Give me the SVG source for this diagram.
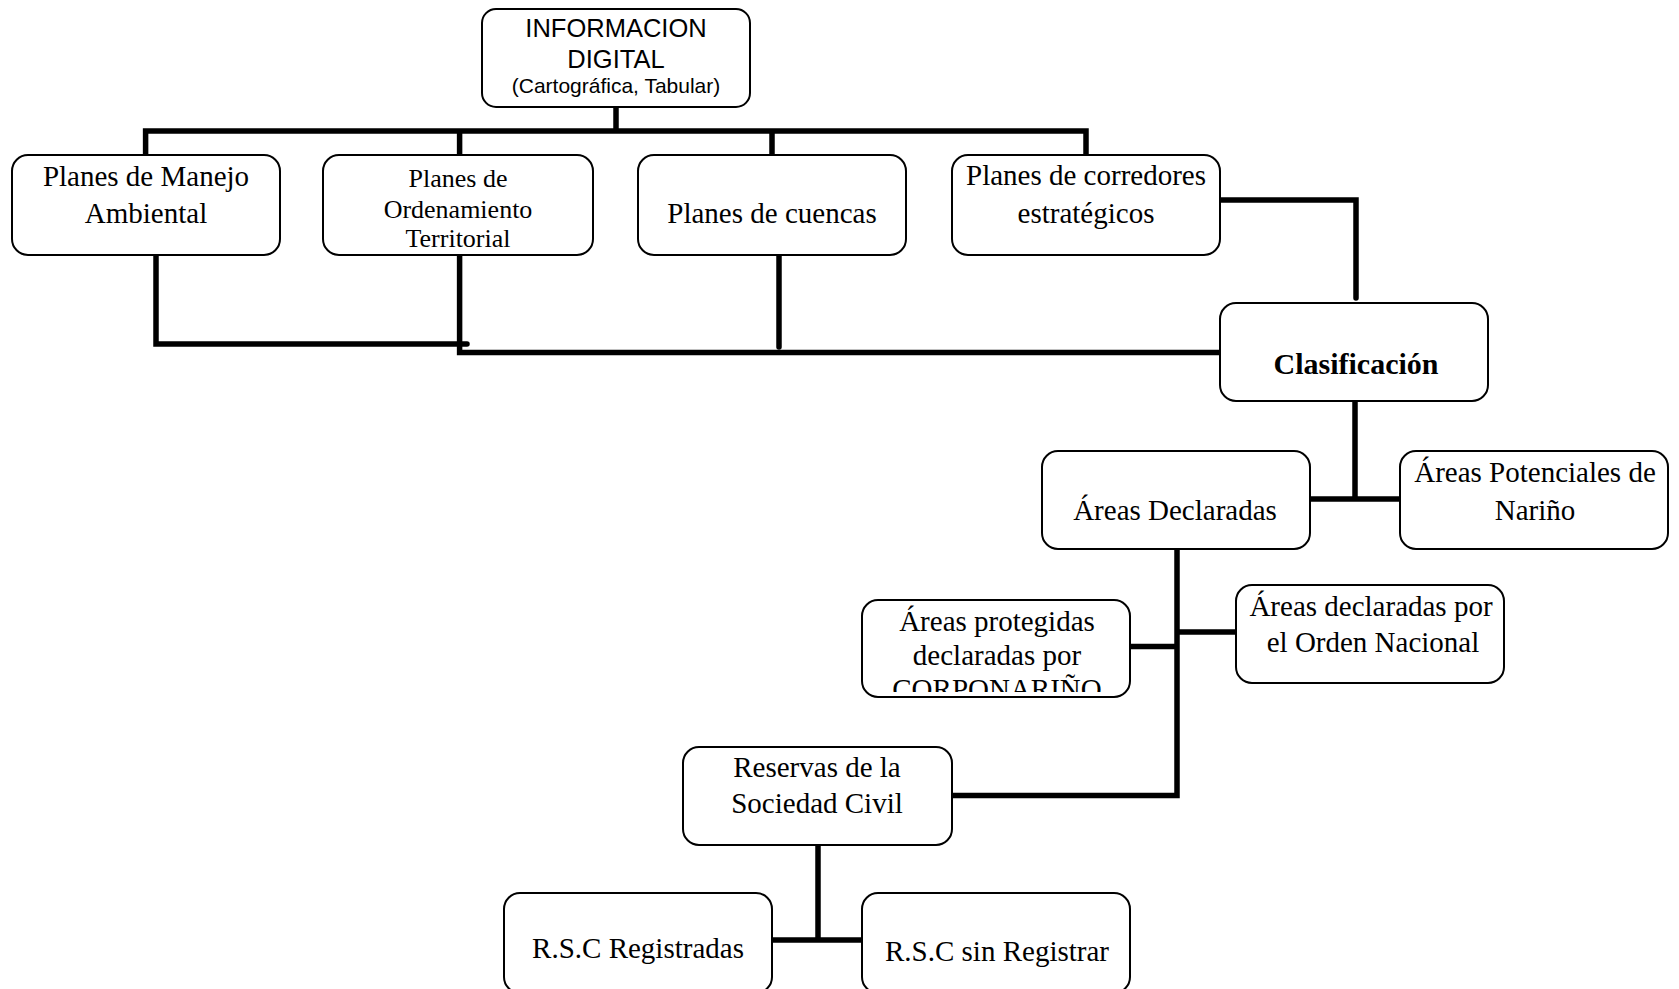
<svg xmlns="http://www.w3.org/2000/svg" width="1679" height="989" viewBox="0 0 1679 989">
<style>
.box{fill:#fff;stroke:#000;stroke-width:2}
.t{font-family:"Liberation Serif","Times New Roman",serif;font-size:29px;fill:#000;text-anchor:middle}
.t26{font-size:26px}
.tb{font-weight:bold;font-size:30px}
.s{font-family:"Liberation Sans",Arial,sans-serif;fill:#000;text-anchor:middle;font-size:25.5px}
.s21{font-size:21px}
.c{fill:none;stroke:#000;stroke-width:5.5;stroke-linejoin:miter}
.r{stroke-linecap:round}
</style>
<defs>
<clipPath id="clipCorpo"><rect x="862" y="600" width="268" height="92"/></clipPath>
</defs>
<g id="connectors">
<path class="c" d="M616 107 V131 M145.6 155 V131 H1086 V155 M459.6 131 V155 M772 131 V155"/>
<path class="c r" d="M156 247 V344 H467"/>
<path class="c" d="M459.6 255 V352.5 H1220"/>
<path class="c r" d="M779 248 V347"/>
<path class="c r" d="M1212 200 H1356 V298"/>
<path class="c" d="M1355 401.5 V499 M1310 499 H1400"/>
<path class="c" d="M1177 549 V795.5 H952 M1130 646.5 H1177 M1177 632 H1236"/>
<path class="c" d="M818 846 V940 M772 940 H862"/>
</g>
<g id="n-info">
<rect class="box" x="482" y="9" width="268" height="98" rx="14"/>
<text class="s" x="616" y="37">INFORMACION</text>
<text class="s" x="616" y="68">DIGITAL</text>
<text class="s s21" x="616" y="93">(Cartográfica, Tabular)</text>
</g>
<g id="n-manejo">
<rect class="box" x="12" y="155" width="268" height="100" rx="16"/>
<text class="t" x="146" y="186">Planes de Manejo</text>
<text class="t" x="146" y="223">Ambiental</text>
</g>
<g id="n-ordenamiento">
<rect class="box" x="323" y="155" width="270" height="100" rx="16"/>
<text class="t t26" x="458" y="187">Planes de</text>
<text class="t t26" x="458" y="218">Ordenamiento</text>
<text class="t t26" x="458" y="247">Territorial</text>
</g>
<g id="n-cuencas">
<rect class="box" x="638" y="155" width="268" height="100" rx="16"/>
<text class="t" x="772" y="223">Planes de cuencas</text>
</g>
<g id="n-corredores">
<rect class="box" x="952" y="155" width="268" height="100" rx="16"/>
<text class="t" x="1086" y="185">Planes de corredores</text>
<text class="t" x="1086" y="223">estratégicos</text>
</g>
<g id="n-clasificacion">
<rect class="box" x="1220" y="303" width="268" height="98" rx="16"/>
<text class="t tb" x="1356" y="374">Clasificación</text>
</g>
<g id="n-declaradas">
<rect class="box" x="1042" y="451" width="268" height="98" rx="16"/>
<text class="t" x="1175" y="520">Áreas Declaradas</text>
</g>
<g id="n-potenciales">
<rect class="box" x="1400" y="451" width="268" height="98" rx="16"/>
<text class="t" x="1535" y="482">Áreas Potenciales de</text>
<text class="t" x="1535" y="520">Nariño</text>
</g>
<g id="n-corpo">
<rect class="box" x="862" y="600" width="268" height="97" rx="16"/>
<g clip-path="url(#clipCorpo)">
<text class="t" x="997" y="631">Áreas protegidas</text>
<text class="t" x="997" y="665">declaradas por</text>
<text class="t" x="997" y="699">CORPONARIÑO</text>
</g>
</g>
<g id="n-nacional">
<rect class="box" x="1236" y="585" width="268" height="98" rx="16"/>
<text class="t" x="1371" y="616">Áreas declaradas por</text>
<text class="t" x="1373" y="652">el Orden Nacional</text>
</g>
<g id="n-reservas">
<rect class="box" x="683" y="747" width="269" height="98" rx="16"/>
<text class="t" x="817" y="777">Reservas de la</text>
<text class="t" x="817" y="813">Sociedad Civil</text>
</g>
<g id="n-registradas">
<rect class="box" x="504" y="893" width="268" height="100" rx="16"/>
<text class="t" x="638" y="958">R.S.C Registradas</text>
</g>
<g id="n-sinregistrar">
<rect class="box" x="862" y="893" width="268" height="100" rx="16"/>
<text class="t" x="997" y="961">R.S.C sin Registrar</text>
</g>
</svg>
